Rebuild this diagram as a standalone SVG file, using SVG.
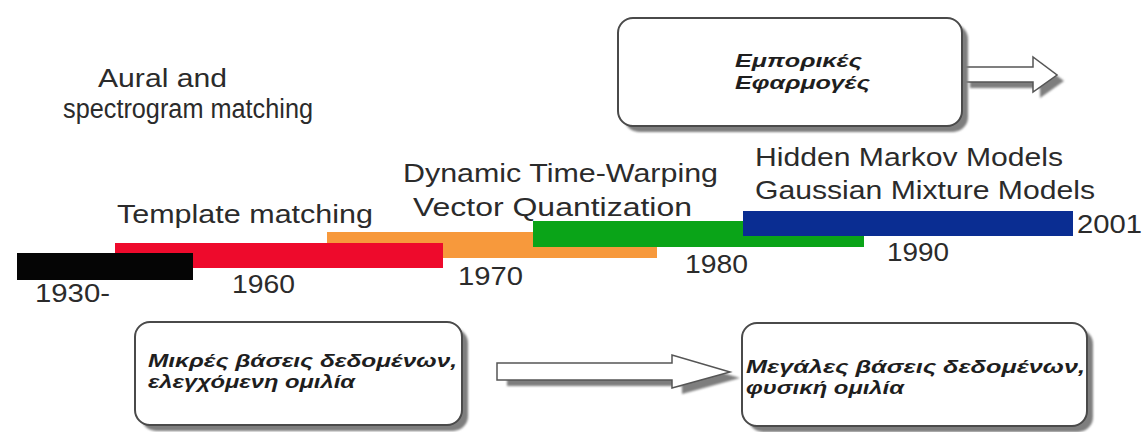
<svg xmlns="http://www.w3.org/2000/svg" width="1147" height="432" viewBox="0 0 1147 432">
<defs>
<style>
.lbl{font-family:"Liberation Sans",Arial,sans-serif;font-size:26px;fill:#2b2b2b}
.gr{font-family:"Liberation Sans",Arial,sans-serif;font-size:18px;font-weight:bold;font-style:italic;fill:#1e1e1e}
.box{fill:#ffffff;stroke:#4a4a4a;stroke-width:2}
.shadow{fill:#7e7e7e}
.arrow{fill:#ffffff;stroke:#555555;stroke-width:1.5}
</style>
<filter id="blur" x="-10%" y="-10%" width="120%" height="130%"><feGaussianBlur stdDeviation="1"/></filter>
</defs>
<rect width="1147" height="432" fill="#ffffff"/>

<g id="labels">
<text class="lbl" x="98" y="87" textLength="129" lengthAdjust="spacingAndGlyphs">Aural and</text>
<text class="lbl" x="63" y="118" style="font-size:27px" textLength="250" lengthAdjust="spacingAndGlyphs">spectrogram matching</text>
<text class="lbl" x="117" y="223" textLength="256" lengthAdjust="spacingAndGlyphs">Template matching</text>
<text class="lbl" x="403" y="182" textLength="315" lengthAdjust="spacingAndGlyphs">Dynamic Time-Warping</text>
<text class="lbl" x="413" y="216" textLength="279" lengthAdjust="spacingAndGlyphs">Vector Quantization</text>
<text class="lbl" x="755" y="166" textLength="308" lengthAdjust="spacingAndGlyphs">Hidden Markov Models</text>
<text class="lbl" x="755" y="199" textLength="340" lengthAdjust="spacingAndGlyphs">Gaussian Mixture Models</text>
</g>

<g id="timeline">
<rect x="327" y="232" width="330" height="26" fill="#f7993c"/>
<rect x="115" y="243" width="328" height="25" fill="#ee0a2c"/>
<rect x="17" y="253" width="176" height="27" fill="#050505"/>
<rect x="533" y="221" width="331" height="26" fill="#0aa418"/>
<rect x="743" y="211" width="330" height="25" fill="#0a2d92"/>
<text class="lbl" x="35" y="302" textLength="75" lengthAdjust="spacingAndGlyphs">1930-</text>
<text class="lbl" x="232" y="293" textLength="63" lengthAdjust="spacingAndGlyphs">1960</text>
<text class="lbl" x="458" y="285" textLength="65" lengthAdjust="spacingAndGlyphs">1970</text>
<text class="lbl" x="685" y="273" textLength="63" lengthAdjust="spacingAndGlyphs">1980</text>
<text class="lbl" x="887" y="261" textLength="62" lengthAdjust="spacingAndGlyphs">1990</text>
<text class="lbl" x="1077" y="233" textLength="65" lengthAdjust="spacingAndGlyphs">2001</text>
</g>

<g id="connectors">
<polygon class="shadow" filter="url(#blur)" points="970,73 1040,73 1040,63 1064,81 1040,98 1040,88 970,88"/>
<polygon class="arrow" points="963,67 1033,67 1033,57 1057,75 1033,92 1033,82 963,82"/>
<polygon class="shadow" filter="url(#blur)" points="507,369 682,369 682,361 740,378 682,394 682,386 507,386"/>
<polygon class="arrow" points="497,363 672,363 672,355 730,372 672,388 672,380 497,380"/>
</g>

<g id="node-commercial">
<rect class="shadow" filter="url(#blur)" x="624" y="24" width="344" height="108" rx="15"/>
<rect class="box" x="618" y="18" width="344" height="108" rx="15"/>
<text class="gr" x="735" y="67" textLength="127" lengthAdjust="spacingAndGlyphs">Εμπορικές</text>
<text class="gr" x="735" y="89" textLength="135" lengthAdjust="spacingAndGlyphs">Εφαρμογές</text>
</g>

<g id="node-small">
<rect class="shadow" filter="url(#blur)" x="141" y="328" width="327" height="103" rx="15"/>
<rect class="box" x="135" y="322" width="327" height="103" rx="15"/>
<text class="gr" x="148" y="367" textLength="309" lengthAdjust="spacingAndGlyphs">Μικρές βάσεις δεδομένων,</text>
<text class="gr" x="148" y="388" textLength="207" lengthAdjust="spacingAndGlyphs">ελεγχόμενη ομιλία</text>
</g>

<g id="node-large">
<rect class="shadow" filter="url(#blur)" x="748" y="329" width="345" height="103" rx="15"/>
<rect class="box" x="742" y="323" width="345" height="103" rx="15"/>
<text class="gr" x="746" y="373" textLength="339" lengthAdjust="spacingAndGlyphs">Μεγάλες βάσεις δεδομένων,</text>
<text class="gr" x="746" y="394" textLength="158" lengthAdjust="spacingAndGlyphs">φυσική ομιλία</text>
</g>
</svg>
